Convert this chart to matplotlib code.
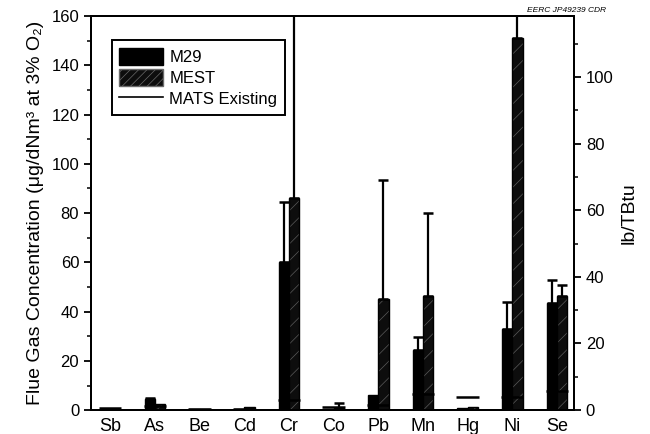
import numpy as np
import matplotlib
matplotlib.use("Agg")
import matplotlib.pyplot as plt
from matplotlib.patches import Patch
from matplotlib.lines import Line2D

plt.rcParams['font.family'] = ['Liberation Sans', 'DejaVu Sans']
plt.rcParams['hatch.linewidth'] = 0.5

# data (left axis units, ug/dNm3)
elements = ['Sb', 'As', 'Be', 'Cd', 'Cr', 'Co', 'Pb', 'Mn', 'Hg', 'Ni', 'Se']
m29 = [0.6, 4.5, 0.3, 0.3, 60, 0.6, 6.0, 24.5, 1.0, 33, 43.5]
m29_err = [0, 0.5, 0, 0, 24.5, 0, 0, 5.2, 0, 11, 9.5]
mest = [0.6, 2.4, 0.3, 1.2, 86, 0.9, 45, 46.5, 1.1, 151, 46.5]
mest_err = [0, 0, 0, 0, 120, 2.0, 48.5, 33.5, 0, 60, 4.5]
mats = [1.0, 1.5, 0.3, 0.4, 4.0, 1.1, 2.2, 6.5, 5.3, 5.3, 7.7]

lb_per_ug = 1.353  # left units per lb/TBtu

fig = plt.figure(figsize=(6.5, 4.34), dpi=100)
ax = fig.add_axes([0.14, 0.055, 0.743, 0.908])

x = np.arange(len(elements))
w = 0.23
ax.bar(x - w / 2, m29, w, color='black', edgecolor='black', lw=1.0, zorder=2)
ax.bar(x + w / 2, mest, w, color='#0d0d0d', edgecolor='#5a5a5a', hatch='//', lw=0, zorder=2)
ax.bar(x + w / 2, mest, w, fill=False, edgecolor='black', lw=1.0, zorder=2)

# upward-only error bars
for xi, v, e in zip(x - w / 2, m29, m29_err):
    if e > 0:
        ax.errorbar(xi, v, yerr=[[0], [e]], color='black', lw=1.6, capsize=3.5, capthick=1.8, zorder=3)
for xi, v, e in zip(x + w / 2, mest, mest_err):
    if e > 0:
        ax.errorbar(xi, v, yerr=[[0], [e]], color='black', lw=1.6, capsize=3.5, capthick=1.8, zorder=3)

ax.hlines(mats, x - 0.25, x + 0.25, color='black', lw=1.8, zorder=4)

ax.set_xlim(-0.43, 10.38)
ax.set_ylim(0, 160)
ax.set_xticks(x)
ax.set_xticklabels(elements, fontsize=13)
ax.set_yticks(np.arange(0, 161, 20))
ax.set_yticks(np.arange(10, 160, 20), minor=True)
ax.tick_params(axis='x', length=0, pad=6)
ax.tick_params(axis='y', which='major', direction='out', length=5, width=1.3, labelsize=12)
ax.tick_params(axis='y', which='minor', direction='out', length=3, width=1.1)
for s in ax.spines.values():
    s.set_linewidth(1.4)
ax.set_ylabel('Flue Gas Concentration (μg/dNm³ at 3% O₂)', fontsize=14, labelpad=5)

ax2 = ax.twinx()
ax2.set_ylim(0, 160 / lb_per_ug)
ax2.set_yticks(np.arange(0, 101, 20))
ax2.set_yticks(np.arange(10, 111, 20), minor=True)
ax2.tick_params(axis='y', which='major', direction='out', length=5, width=1.3, labelsize=12)
ax2.tick_params(axis='y', which='minor', direction='out', length=3, width=1.1)
ax2.set_ylabel('lb/TBtu', fontsize=14, labelpad=5)
for s in ax2.spines.values():
    s.set_linewidth(1.4)

handles = [Patch(facecolor='black', edgecolor='black'),
           Patch(facecolor='#0d0d0d', edgecolor='#6a6a6a', hatch='////'),
           Line2D([0], [0], color='black', lw=1.2)]
leg = ax.legend(handles, ['M29', 'MEST', 'MATS Existing'], loc='upper left',
                bbox_to_anchor=(0.026, 0.96), fontsize=12, fancybox=False,
                edgecolor='black', framealpha=1, handlelength=2.6, handleheight=1.2,
                borderpad=0.45, labelspacing=0.25, handletextpad=0.4)
leg.get_frame().set_linewidth(1.4)

fig.text(0.932, 0.968, 'EERC JP49239 CDR', fontsize=6, style='italic', ha='right', va='bottom')

plt.savefig('out.png', dpi=100)
